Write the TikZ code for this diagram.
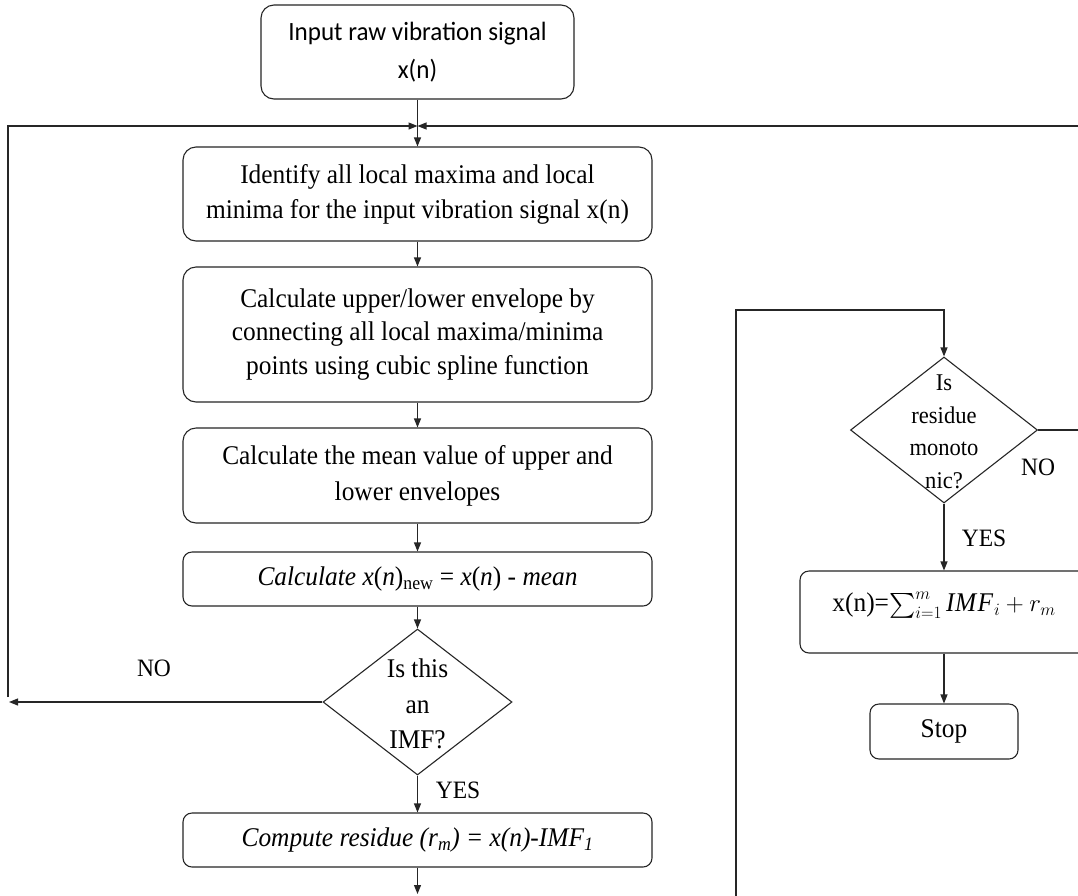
\documentclass[tikz,border=0pt]{standalone}
\usepackage{amsmath}
\usepackage{fontspec}
\setmainfont{Liberation Serif}[FakeStretch=0.94]
\newfontfamily\calfont{Carlito}[FakeStretch=0.95]
\usetikzlibrary{shapes.geometric,arrows.meta}
\begin{document}
\begin{tikzpicture}[x=1pt,y=-1pt,
  line width=1.1pt, draw=black!85,
  box/.style={draw=black!85, rounded corners=13pt, align=center, inner sep=0pt, line width=1.1pt},
  sbox/.style={box, rounded corners=9pt},
  dia/.style={draw=black!85, diamond, inner sep=0pt, line width=1.1pt},
  serif/.style={font=\fontsize{27}{35}\selectfont},
  dtext/.style={align=center, inner sep=0pt},
  lbl/.style={inner sep=0pt, font=\fontsize{25}{30}\selectfont},
  arr/.style={draw=black!85, line width=1.1pt, -{Triangle[length=9pt,width=7pt]}}]
\useasboundingbox (0,0) rectangle (1078,895);
\clip (0,0) rectangle (1078,895);
\fill[white] (0,0) rectangle (1078,895);

% left column
\node[box, minimum width=313pt, minimum height=94pt, font=\calfont\fontsize{26.4}{38}\selectfont] (b1) at (417.5,52) {Input raw vibration signal\\x(n)};
\node[box, serif, minimum width=469pt, minimum height=94pt] (b2) at (417.5,194) {Identify all local maxima and local\\minima for the input vibration signal x(n)};
\node[box, serif, minimum width=469pt, minimum height=135pt, font=\fontsize{27}{33.5}\selectfont] (b3) at (417.5,334.5) {Calculate upper/lower envelope by\\connecting all local maxima/minima\\points using cubic spline function};
\node[box, serif, minimum width=469pt, minimum height=95pt, font=\fontsize{27}{36}\selectfont] (b4) at (417.5,475.5) {Calculate the mean value of upper and\\lower envelopes};
\node[sbox, serif, minimum width=469pt, minimum height=54pt] (b5) at (417.5,579) {\textit{Calculate x}(\textit{n})\textsubscript{new} = \textit{x}(\textit{n}) - \textit{mean}};
\node[dia, minimum width=189pt, minimum height=146pt] (d1) at (417.5,702) {};
\node[dtext, font=\fontsize{27}{35.5}\selectfont] (d1t) at (417.5,704) {Is this\\an\\IMF?};
\node[sbox, serif, minimum width=469pt, minimum height=54pt] (b6) at (417.5,840) {\textit{Compute residue (r\textsubscript{m}) = x(n)-IMF\textsubscript{1}}};

% right column
\node[dia, minimum width=187pt, minimum height=146pt] (d2) at (944,430) {};
\node[dtext, font=\fontsize{24}{32.5}\selectfont] (d2t) at (944,432) {Is\\residue\\monoto\\nic?};
\node[sbox, serif, minimum width=288pt, minimum height=82pt, text depth=20pt] (b7) at (944,612) {x(n)=$\sum_{i=1}^{m} \mathit{IMF}_i + r_m$};
\node[sbox, serif, minimum width=148pt, minimum height=55pt] (stop) at (944,731.5) {Stop};

% labels
\node[lbl] (no1) at (154,668) {NO};
\node[lbl] (yes1) at (458,790) {YES};
\node[lbl] (no2) at (1038,467) {NO};
\node[lbl] (yes2) at (984,538) {YES};

% helper coordinates
\coordinate (J) at (417.5,126);
\coordinate (LB) at (8,697);
\coordinate (LE) at (9,702);
\coordinate (RJ) at (1090,126);
\coordinate (RE) at (1087,430);
\coordinate (RB) at (736,900);
\coordinate (RT) at (944,310);
\coordinate (BB) at (417.5,894);

% connectors
\draw[arr] (b1) -- (b2);
\draw[arr] (LB) |- (J);
\draw[arr] (RJ) -- (J);
\draw[arr] (b2) -- (b3);
\draw[arr] (b3) -- (b4);
\draw[arr] (b4) -- (b5);
\draw[arr] (b5) -- (d1);
\draw[arr] (d1.west) -- (LE);
\draw[arr] (d1) -- (b6);
\draw[arr] (b6) -- (BB);
\draw[arr] (RB) |- (RT) -- (d2.north);
\draw[arr] (d2.east) -- (RE);
\draw[arr] (d2) -- (b7);
\draw[arr] (b7) -- (stop);
\end{tikzpicture}
\end{document}
